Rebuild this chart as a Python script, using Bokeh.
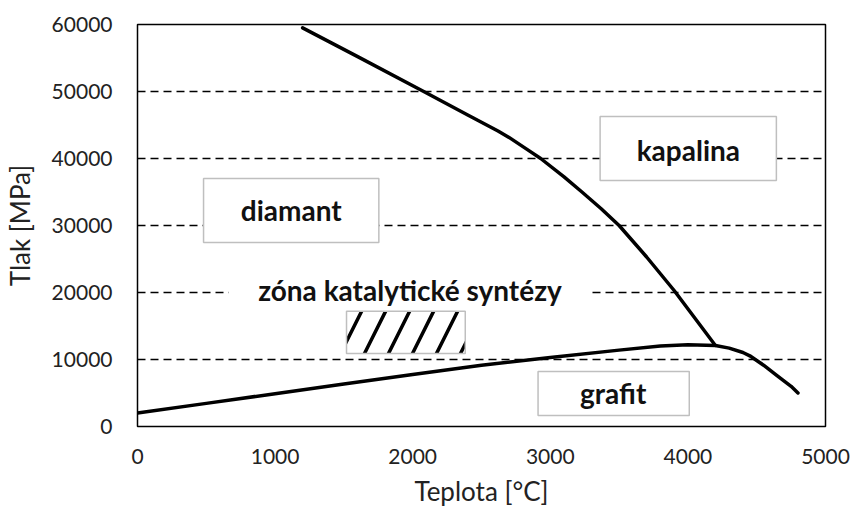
from bokeh.plotting import figure
from bokeh.models import Range1d, FixedTicker, ColumnDataSource
from bokeh.core.properties import value
from bokeh.embed import file_html
from bokeh.resources import INLINE

# Diamond / liquid boundary
melt_diamond_t = [1200, 1600, 2080, 2400, 2620, 2700, 2850, 2930, 3100, 3230, 3370, 3500, 3700, 3900, 4200]
melt_diamond_p = [59500, 55200, 50000, 46500, 44100, 43150, 41100, 40000, 37250, 35000, 32500, 30000, 25300, 20300, 12100]

# Graphite / diamond boundary and graphite melting line
graphite_t = [0, 500, 1000, 1500, 2000, 2500, 3000, 3500, 3800, 4000, 4200, 4300, 4400, 4450, 4500, 4550, 4650, 4750, 4800]
graphite_p = [2000, 3450, 4900, 6350, 7750, 9150, 10300, 11400, 12000, 12200, 12100, 11700, 11050, 10550, 9850, 9150, 7550, 6000, 5000]

x_ticks = [0, 1000, 2000, 3000, 4000, 5000]
y_ticks = [0, 10000, 20000, 30000, 40000, 50000, 60000]

# Region labels (data coordinates of label boxes)
labels = ["diamant", "kapalina", "grafit"]
label_left = [480, 3362, 2911]
label_right = [1754, 4643, 4010]
label_bottom = [27460, 36720, 1640]
label_top = [37010, 46270, 8210]
label_x = [1117, 4003, 3457]
label_y = [32300, 41300, 5000]

zone_text = "zóna katalytické syntézy"
zone_text_x = 1980
zone_text_y = 20300
zone_bg = dict(left=662, right=3297, bottom=17800, top=23300)
zone_box = dict(left=1519, right=2382, bottom=10900, top=17200)

FONT = "Lato"

p = figure(width=852, height=513, output_backend="svg", toolbar_location=None,
           x_range=Range1d(0, 5000), y_range=Range1d(0, 60000),
           min_border_left=137, min_border_right=27, min_border_top=24, min_border_bottom=87)

p.outline_line_color = "black"
p.outline_line_width = 1.5
p.xgrid.grid_line_color = None
p.ygrid.grid_line_color = "black"
p.ygrid.grid_line_width = 1.3
p.ygrid.grid_line_dash = "8 5"
p.background_fill_color = "white"
p.border_fill_color = "white"

for ax in (p.xaxis[0], p.yaxis[0]):
    ax.axis_line_color = None
    ax.major_tick_line_color = None
    ax.minor_tick_line_color = None
    ax.major_tick_out = 0
    ax.major_tick_in = 0
    ax.minor_tick_out = 0
    ax.minor_tick_in = 0
    ax.major_label_text_font = FONT
    ax.major_label_text_font_size = "21px"
    ax.major_label_text_color = "#222222"
    ax.axis_label_text_font = FONT
    ax.axis_label_text_font_size = "26px"
    ax.axis_label_text_font_style = "normal"
    ax.axis_label_text_color = "#222222"

p.xaxis.ticker = FixedTicker(ticks=x_ticks)
p.yaxis.ticker = FixedTicker(ticks=y_ticks)
p.xaxis.axis_label = "Teplota [°C]"
p.yaxis.axis_label = "Tlak [MPa]"
p.xaxis.major_label_standoff = 22
p.yaxis.major_label_standoff = 25
p.xaxis.axis_label_standoff = 8
p.yaxis.axis_label_standoff = 13

# zone background (white, interrupts grid line)
p.quad(left=[zone_bg["left"]], right=[zone_bg["right"]], bottom=[zone_bg["bottom"]], top=[zone_bg["top"]],
       fill_color="white", line_color=None)

# curves
p.line(graphite_t, graphite_p, line_color="black", line_width=3.5, line_join="round", line_cap="round")
p.line(melt_diamond_t, melt_diamond_p, line_color="black", line_width=3.5, line_join="round", line_cap="round")

# hatched zone box
p.quad(left=[zone_box["left"]], right=[zone_box["right"]], bottom=[zone_box["bottom"]], top=[zone_box["top"]],
       fill_color="white", line_color="#bfbfbf", line_width=1.5,
       hatch_pattern="/", hatch_color="black", hatch_weight=3.5, hatch_scale=48)

# label boxes
src = ColumnDataSource(dict(left=label_left, right=label_right, bottom=label_bottom, top=label_top,
                            x=label_x, y=label_y, text=labels))
p.quad(left="left", right="right", bottom="bottom", top="top", source=src,
       fill_color="white", line_color="#bfbfbf", line_width=1.5)
p.text(x="x", y="y", text="text", source=src, text_font=value(FONT), text_font_style="bold",
       text_font_size="28px", text_align="center", text_baseline="middle", text_color="#111111")

p.text(x=[zone_text_x], y=[zone_text_y], text=[zone_text], text_font=value(FONT), text_font_style="bold",
       text_font_size="28px", text_align="center", text_baseline="middle", text_color="#111111")

open("out.html", "w").write(file_html(p, INLINE))
